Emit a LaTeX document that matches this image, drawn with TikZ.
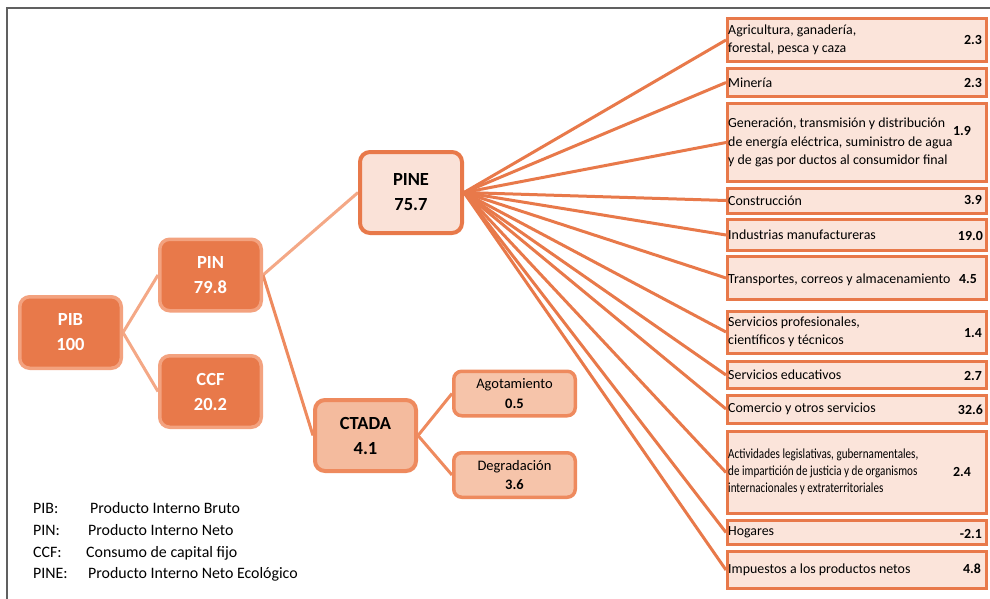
\documentclass[tikz,border=0pt]{standalone}
\usepackage{fontspec}
\setmainfont{Carlito}
\usetikzlibrary{backgrounds}
\definecolor{dkor}{HTML}{E8794A}
\definecolor{ltbord}{HTML}{F3A27F}
\definecolor{ltline}{HTML}{F4A886}
\definecolor{pinefill}{HTML}{FAE2D8}
\definecolor{ctfill}{HTML}{F4BB9E}
\definecolor{ctbord}{HTML}{EE8A5E}
\definecolor{agfill}{HTML}{F6C4AA}
\definecolor{boxfill}{HTML}{FBE4DA}
\definecolor{framegray}{HTML}{606060}
\begin{document}
\begin{tikzpicture}[x=1pt,y=-1pt,
  bignode/.style={rounded corners=10pt, line width=3.5pt, inner sep=0pt, align=center,
    font=\fontsize{18.5}{25}\selectfont\bfseries},
  darkbox/.style={bignode, fill=dkor, draw=ltbord, text=white, minimum width=101.5pt, minimum height=71.5pt},
  pinebox/.style={bignode, line width=4pt, fill=pinefill, draw=dkor, text=black, minimum width=102pt, minimum height=81pt},
  ctbox/.style={bignode, line width=4pt, fill=ctfill, draw=ctbord, text=black, minimum width=101pt, minimum height=71pt},
  agbox/.style={rounded corners=8pt, line width=3.5pt, inner sep=0pt, align=center, fill=agfill, draw=ctbord,
    minimum width=121.5pt, minimum height=44.5pt, font=\fontsize{14.5}{19.5}\selectfont},
  rbox/.style={draw=dkor, fill=boxfill, line width=3pt, minimum width=259pt, inner sep=0pt},
  rlabel/.style={anchor=west, align=left, inner sep=0pt, font=\fontsize{13.9}{18.5}\selectfont},
  rval/.style={anchor=east, inner sep=0pt, font=\fontsize{13.9}{16}\selectfont\bfseries},
  leg/.style={anchor=base west, inner sep=0pt, font=\fontsize{15.9}{20}\selectfont},
  lightcon/.style={ltline, line width=3pt},
  midcon/.style={ctbord, line width=3pt},
  fan/.style={dkor, line width=3pt},
]
\useasboundingbox (0,0) rectangle (990,598);

% frame
\coordinate (fbl) at (7,600);
\coordinate (ftl) at (7,8);
\coordinate (ftr) at (992,8);
\draw[framegray, line width=2pt] (fbl) -- (ftl) -- (ftr);

% main nodes
\node[darkbox] (PIB) at (70.5,332.5) {PIB\\100};
\node[darkbox] (PIN) at (210.5,275) {PIN\\79.8};
\node[darkbox] (CCF) at (210.5,391.5) {CCF\\20.2};
\node[pinebox] (PINE) at (411,192.5) {PINE\\75.7};
\node[ctbox] (CTADA) at (365.5,435.5) {CTADA\\4.1};
\node[agbox] (AGO) at (514.5,393.5) {Agotamiento\\\textbf{0.5}};
\node[agbox] (DEG) at (514.5,475) {Degradación\\\textbf{3.6}};

% right boxes
\node[rbox, minimum height=43pt] (r1) at (857,40) {};
\node[rbox, minimum height=28pt] (r2) at (857,82.5) {};
\node[rbox, minimum height=78pt] (r3) at (857,142.5) {};
\node[rbox, minimum height=25pt] (r4) at (857,200.5) {};
\node[rbox, minimum height=31pt] (r5) at (857,235) {};
\node[rbox, minimum height=43pt] (r6) at (857,278) {};
\node[rbox, minimum height=42pt] (r7) at (857,332) {};
\node[rbox, minimum height=27pt] (r8) at (857,375) {};
\node[rbox, minimum height=28pt] (r9) at (857,409) {};
\node[rbox, minimum height=82pt] (r10) at (857,472.5) {};
\node[rbox, minimum height=24pt] (r11) at (857,532.5) {};
\node[rbox, minimum height=37pt] (r12) at (857,570) {};

\node[rlabel] (l1) at ([xshift=2pt]r1.west) {Agricultura, ganadería,\\forestal, pesca y caza};
\node[rlabel] (l2) at ([xshift=2pt]r2.west) {Minería};
\node[rlabel] (l3) at ([xshift=2pt]r3.west) {Generación, transmisión y distribución\\de energía eléctrica, suministro de agua\\y de gas por ductos al consumidor final};
\node[rlabel] (l4) at ([xshift=2pt]r4.west) {Construcción};
\node[rlabel] (l5) at ([xshift=2pt]r5.west) {Industrias manufactureras};
\node[rlabel] (l6) at ([xshift=2pt,yshift=-1.5pt]r6.west) {Transportes, correos y almacenamiento};
\node[rlabel] (l7) at ([xshift=2pt]r7.west) {Servicios profesionales,\\científicos y técnicos};
\node[rlabel] (l8) at ([xshift=2pt]r8.west) {Servicios educativos};
\node[rlabel] (l9) at ([xshift=2pt]r9.west) {Comercio y otros servicios};
\node[rlabel] (l10) at ([xshift=2pt]r10.west) {\scalebox{0.8}[1]{\fontsize{13.9}{17}\selectfont\begin{tabular}{@{}l@{}}Actividades legislativas, gubernamentales,\\de impartición de justicia y de organismos\\internacionales y extraterritoriales\end{tabular}}};
\node[rlabel] (l11) at ([xshift=2pt]r11.west) {Hogares};
\node[rlabel] (l12) at ([xshift=2pt]r12.west) {Impuestos a los productos netos};

\node[rval] (v1) at (982,40) {2.3};
\node[rval] (v2) at (982,83) {2.3};
\node[rval] (v3) at (971,131) {1.9};
\node[rval] (v4) at (982,200) {3.9};
\node[rval] (v5) at (983,236) {19.0};
\node[rval] (v6) at (977,279) {4.5};
\node[rval] (v7) at (982,333) {1.4};
\node[rval] (v8) at (982,376) {2.7};
\node[rval] (v9) at (983,410) {32.6};
\node[rval] (v10) at (971,472) {2.4};
\node[rval] (v11) at (982,534) {-2.1};
\node[rval] (v12) at (981,569) {4.8};

% legend
\node[leg] (t1) at (33,513) {PIB:};
\node[leg] (d1) at (90,513) {Producto Interno Bruto};
\node[leg] (t2) at (33,535) {PIN:};
\node[leg] (d2) at (88,535) {Producto Interno Neto};
\node[leg] (t3) at (33,557) {CCF:};
\node[leg] (d3) at (86,557) {Consumo de capital fijo};
\node[leg] (t4) at (33,578) {PINE:};
\node[leg] (d4) at (88,578) {Producto Interno Neto Ecológico};

% connectors
\begin{pgfonlayer}{background}
\draw[lightcon] (PIB.east) -- (PIN.west);
\draw[lightcon] (PIB.east) -- (CCF.west);
\draw[lightcon] (PIN.east) -- (PINE.west);
\draw[midcon] (PIN.east) -- (CTADA.west);
\draw[midcon] (CTADA.east) -- (AGO.west);
\draw[midcon] (CTADA.east) -- (DEG.west);
\foreach \i in {1,...,12} \draw[fan] (PINE.east) -- (r\i.west);
\end{pgfonlayer}
\end{tikzpicture}
\end{document}
